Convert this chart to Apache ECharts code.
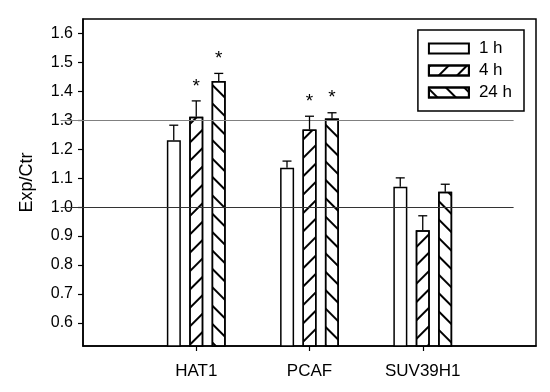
<!DOCTYPE html>
<html><head><meta charset="utf-8">
<script src="https://cdn.jsdelivr.net/npm/echarts@6/dist/echarts.min.js"></script>
<style>html,body{margin:0;padding:0;background:#fff}#c{width:550px;height:392px}</style>
</head><body><div id="c"></div>
<script>
const categories = ['', 'HAT1', 'PCAF', 'SUV39H1', ''];
const seriesNames = ['1 h', '4 h', '24 h'];
const values1h = [null, 1.231, 1.136, 1.070, null];
const values4h = [null, 1.312, 1.268, 0.920, null];
const values24h = [null, 1.436, 1.306, 1.053, null];
const err1h = [null, 0.052, 0.023, 0.031, null];
const err4h = [null, 0.055, 0.046, 0.050, null];
const err24h = [null, 0.026, 0.020, 0.026, null];
const sig1h = [false, false, false, false, false];
const sig4h = [false, true, true, false, false];
const sig24h = [false, true, true, false, false];
const yTicks = [0.6, 0.7, 0.8, 0.9, 1.0, 1.1, 1.2, 1.3, 1.4, 1.5, 1.6];
const refLines = [1.3, 1.0];

const FONT = 'Liberation Sans, Arial, sans-serif';
const values = [values1h, values4h, values24h];
const errs = [err1h, err4h, err24h];
const sigs = [sig1h, sig4h, sig24h];
const decals = [
  null,
  {symbol: 'rect', symbolSize: 1, color: '#000', dashArrayX: [1, 0], dashArrayY: [1.5, 11], rotation: -Math.PI / 4},
  {symbol: 'rect', symbolSize: 1, color: '#000', dashArrayX: [1, 0], dashArrayY: [1.5, 11], rotation: Math.PI / 4}
];
const BAR_W = 14, PITCH = 22.5;

const series = [];
seriesNames.forEach((name, i) => {
  const s = {
    name: name, type: 'bar', barWidth: BAR_W, barGap: '60%',
    data: values[i],
    itemStyle: {color: '#fff', borderColor: '#000', borderWidth: 1.5, decal: decals[i] || undefined},
    emphasis: {disabled: true}, animation: false, z: 2
  };
  if (i === 0) {
    s.markLine = {
      silent: true, symbol: 'none', animation: false, label: {show: false},
      data: [
        [{coord: [0.1, refLines[0]], lineStyle: {color: '#808080', width: 1.2, type: 'solid'}}, {coord: [3.95, refLines[0]]}],
        [{coord: [0.08, refLines[1]], lineStyle: {color: '#333', width: 1.2, type: 'solid'}}, {coord: [3.97, refLines[1]]}]
      ]
    };
  }
  series.push(s);
});
seriesNames.forEach((name, i) => {
  const data = [];
  values[i].forEach((v, k) => { if (v != null) data.push([k, v, errs[i][k], sigs[i][k] ? 1 : 0]); });
  const off = (i - 1) * PITCH;
  series.push({
    name: 'err' + i, type: 'custom', z: 5, animation: false, silent: true,
    data: data,
    renderItem: function (params, api) {
      const p = api.coord([api.value(0), api.value(1)]);
      const q = api.coord([api.value(0), api.value(1) + api.value(2)]);
      const x = p[0] + off;
      const children = [
        {type: 'line', shape: {x1: x, y1: p[1], x2: x, y2: q[1]}, style: {stroke: '#000', lineWidth: 1.3}},
        {type: 'line', shape: {x1: x - 4.5, y1: q[1], x2: x + 4.5, y2: q[1]}, style: {stroke: '#000', lineWidth: 1.3}}
      ];
      if (api.value(3)) {
        children.push({type: 'text', style: {text: '*', x: x, y: q[1] - 5, align: 'center', verticalAlign: 'bottom', font: '19px ' + FONT, fill: '#000'}});
      }
      return {type: 'group', children: children};
    }
  });
});

const chart = echarts.init(document.getElementById('c'), null, {renderer: 'canvas'});
chart.setOption({
  animation: false,
  backgroundColor: '#fff',
  grid: {left: 83, right: 14, top: 19, bottom: 46, show: true, borderColor: '#000', borderWidth: 1.5, backgroundColor: 'transparent'},
  legend: {
    data: seriesNames, orient: 'vertical', right: 26, top: 30,
    itemWidth: 40, itemHeight: 10, itemGap: 5,
    borderColor: '#000', borderWidth: 1.5, borderRadius: 0,
    padding: [10, 12, 10, 10],
    textStyle: {fontFamily: FONT, fontSize: 17, color: '#000', padding: [0, 0, 0, 5]},
    selectedMode: false, icon: 'rect'
  },
  xAxis: {
    type: 'category', data: categories, boundaryGap: false,
    axisLine: {lineStyle: {color: '#000', width: 1.5}},
    axisTick: {show: true, length: 5, lineStyle: {color: '#000', width: 1.2}, interval: function (i) { return i >= 1 && i <= 3; }},
    axisLabel: {fontFamily: FONT, fontSize: 17, color: '#000', margin: 17, interval: 0},
    splitLine: {show: false}
  },
  yAxis: {
    type: 'value', min: 0.52, max: 1.65,
    name: 'Exp/Ctr', nameLocation: 'middle', nameGap: 47, nameRotate: 90,
    nameTextStyle: {fontFamily: FONT, fontSize: 18, color: '#000'},
    axisLine: {show: true, lineStyle: {color: '#000', width: 1.5}},
    axisTick: {show: true, length: 5, lineStyle: {color: '#000', width: 1.2}, customValues: yTicks},
    axisLabel: {fontFamily: FONT, fontSize: 16, color: '#000', margin: 10, customValues: yTicks, formatter: v => v.toFixed(1)},
    splitLine: {show: false}
  },
  series: series
});
</script></body></html>
